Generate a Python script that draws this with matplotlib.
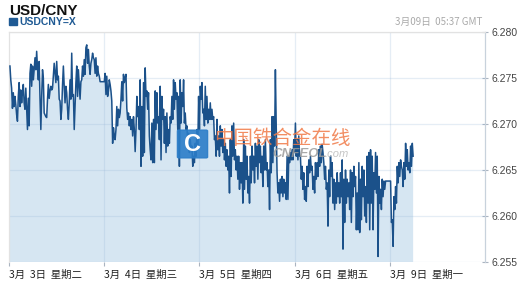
import matplotlib.pyplot as plt
import numpy as np
from matplotlib.patches import FancyBboxPatch, Rectangle

TITLE = 'USD/CNY'
SYMBOL = 'USDCNY=X'
STAMP = '3月09日  05:37 GMT'
DAY_TICKS = [0, 1, 2, 3, 4]
DAY_LABELS = ['3月  3日  星期二', '3月  4日  星期三', '3月  5日  星期四',
              '3月  6日  星期五', '3月  9日  星期一']
Y_TICKS = [6.255, 6.260, 6.265, 6.270, 6.275, 6.280]

# quotes, in time order (Mar 3 .. Mar 9)
seg1 = [6.2763, 6.2748, 6.2739, 6.2717, 6.2734, 6.2719, 6.2730, 6.2721, 6.2710, 6.2703,
        6.2730, 6.2745, 6.2719, 6.2737, 6.2723, 6.2734, 6.2743, 6.2723, 6.2716, 6.2739,
        6.2716, 6.2694, 6.2728, 6.2698, 6.2755, 6.2765, 6.2741, 6.2763, 6.2748, 6.2759,
        6.2772, 6.2759, 6.2779, 6.2761, 6.2748, 6.2768, 6.2728, 6.2694, 6.2730, 6.2759,
        6.2750, 6.2712, 6.2710, 6.2708, 6.2707, 6.2727, 6.2743, 6.2728, 6.2736, 6.2741,
        6.2737, 6.2739, 6.2752, 6.2766, 6.2755, 6.2745, 6.2768, 6.2748, 6.2752, 6.2727,
        6.2725, 6.2705, 6.2716, 6.2743, 6.2763, 6.2741, 6.2723, 6.2741, 6.2734, 6.2716,
        6.2705, 6.2723, 6.2748, 6.2727, 6.2777, 6.2730, 6.2732, 6.2694, 6.2719, 6.2745,
        6.2763, 6.2730, 6.2759, 6.2743, 6.2727, 6.2746, 6.2748, 6.2763, 6.2752, 6.2770,
        6.2754, 6.2783, 6.2786, 6.2766, 6.2781, 6.2763, 6.2754, 6.2766, 6.2770, 6.2777,
        6.2772, 6.2770, 6.2755, 6.2772, 6.2752, 6.2763, 6.2755, 6.2752, 6.2746, 6.2746,
        6.2746, 6.2746, 6.2746, 6.2746]
seg2 = [6.2755, 6.2732, 6.2752, 6.2730, 6.2736, 6.2748, 6.2743, 6.2736, 6.2725, 6.2679,
        6.2696, 6.2687, 6.2683, 6.2694, 6.2719, 6.2698, 6.2716, 6.2707, 6.2712, 6.2727,
        6.2746, 6.2725, 6.2754, 6.2745, 6.2750, 6.2754, 6.2717, 6.2705, 6.2712, 6.2698,
        6.2708, 6.2694, 6.2705, 6.2687, 6.2708, 6.2694, 6.2670, 6.2694, 6.2730, 6.2708,
        6.2719, 6.2694, 6.2748, 6.2654, 6.2719, 6.2665, 6.2745, 6.2669, 6.2761, 6.2730,
        6.2736, 6.2716, 6.2734, 6.2687, 6.2672, 6.2661, 6.2701, 6.2658, 6.2705, 6.2658,
        6.2736, 6.2694, 6.2734, 6.2701, 6.2708, 6.2683, 6.2741, 6.2661, 6.2730, 6.2705,
        6.2716, 6.2679, 6.2708, 6.2669, 6.2712, 6.2676, 6.2694, 6.2679, 6.2708, 6.2701,
        6.2730, 6.2705, 6.2748, 6.2716, 6.2745, 6.2727, 6.2734, 6.2694, 6.2730, 6.2654,
        6.2748, 6.2701, 6.2734, 6.2719, 6.2748, 6.2701, 6.2712, 6.2694, 6.2698, 6.2679,
        6.2690, 6.2669, 6.2683, 6.2672, 6.2676, 6.2654, 6.2665, 6.2658, 6.2679, 6.2665,
        6.2694, 6.2672, 6.2730, 6.2694]
seg3 = [6.2741, 6.2727, 6.2745, 6.2712, 6.2716, 6.2698, 6.2741, 6.2705, 6.2730, 6.2701,
        6.2716, 6.2705, 6.2723, 6.2705, 6.2716, 6.2705, 6.2708, 6.2683, 6.2687, 6.2665,
        6.2705, 6.2672, 6.2687, 6.2665, 6.2698, 6.2676, 6.2694, 6.2669, 6.2683, 6.2661,
        6.2679, 6.2654, 6.2672, 6.2650, 6.2665, 6.2625, 6.2683, 6.2643, 6.2698, 6.2665,
        6.2701, 6.2661, 6.2672, 6.2650, 6.2665, 6.2640, 6.2665, 6.2629, 6.2658, 6.2636,
        6.2658, 6.2614, 6.2683, 6.2629, 6.2676, 6.2640, 6.2665, 6.2625, 6.2643, 6.2614,
        6.2665, 6.2636, 6.2676, 6.2650, 6.2665, 6.2636, 6.2679, 6.2654, 6.2676, 6.2640,
        6.2683, 6.2658, 6.2676, 6.2647, 6.2665, 6.2632, 6.2676, 6.2650, 6.2683, 6.2650,
        6.2658, 6.2632, 6.2650, 6.2607, 6.2683, 6.2647, 6.2708, 6.2658, 6.2708, 6.2676,
        6.2759, 6.2698, 6.2647, 6.2625, 6.2636, 6.2616, 6.2640, 6.2625, 6.2643, 6.2621,
        6.2640, 6.2625, 6.2636, 6.2618, 6.2665, 6.2618, 6.2665, 6.2658, 6.2669, 6.2661,
        6.2672, 6.2661, 6.2683, 6.2669]
seg4 = [6.2701, 6.2665, 6.2683, 6.2661, 6.2687, 6.2665, 6.2665, 6.2640, 6.2654, 6.2629,
        6.2647, 6.2618, 6.2632, 6.2616, 6.2654, 6.2632, 6.2661, 6.2647, 6.2665, 6.2650,
        6.2654, 6.2629, 6.2643, 6.2625, 6.2658, 6.2640, 6.2658, 6.2643, 6.2672, 6.2654,
        6.2676, 6.2658, 6.2678, 6.2669, 6.2658, 6.2640, 6.2654, 6.2629, 6.2636, 6.2589,
        6.2650, 6.2621, 6.2665, 6.2643, 6.2658, 6.2614, 6.2640, 6.2607, 6.2636, 6.2614,
        6.2647, 6.2621, 6.2636, 6.2614, 6.2647, 6.2621, 6.2661, 6.2564, 6.2640, 6.2593,
        6.2650, 6.2614, 6.2640, 6.2621, 6.2636, 6.2607, 6.2650, 6.2593, 6.2647, 6.2621,
        6.2654, 6.2632, 6.2643, 6.2585, 6.2625, 6.2585, 6.2658, 6.2582, 6.2640, 6.2596,
        6.2654, 6.2621, 6.2650, 6.2600, 6.2632, 6.2593, 6.2665, 6.2614, 6.2669, 6.2585,
        6.2672, 6.2614, 6.2665, 6.2585, 6.2647, 6.2629, 6.2669, 6.2625, 6.2665, 6.2556,
        6.2643, 6.2614, 6.2629, 6.2607, 6.2640, 6.2621, 6.2638, 6.2629, 6.2638, 6.2638,
        6.2638, 6.2638, 6.2638, 6.2638, 6.2638, 6.2593, 6.2596, 6.2567, 6.2621, 6.2607,
        6.2632, 6.2614, 6.2654, 6.2636, 6.2658, 6.2643, 6.2661, 6.2654, 6.2650, 6.2632,
        6.2658, 6.2640, 6.2679, 6.2654, 6.2672, 6.2650, 6.2658, 6.2647, 6.2676, 6.2654,
        6.2679, 6.2665]

LINE = '#1b518a'
FILL = '#d6e6f2'
GRID = (0.6, 0.72, 0.85, 0.25)
CJK = ['Noto Sans CJK SC', 'DejaVu Sans']
LAT = ['Liberation Sans', 'DejaVu Sans']

rate = np.array(seg1 + seg2 + seg3 + seg4)
t = np.linspace(0.01, 4.245, len(rate))  # trading days since Mar 3

fig = plt.figure(figsize=(5.28, 2.88), dpi=100)
ax = fig.add_axes([9 / 528, 26 / 288, 476 / 528, 230 / 288])

ax.fill_between(t, rate, 6.2, color=FILL, lw=0, zorder=1)
ax.plot(t, rate, color=LINE, lw=1.1, zorder=3)

for y in Y_TICKS:
    ax.axhline(y, color=GRID, lw=0.9, zorder=2)
for d in DAY_TICKS[1:]:
    ax.axvline(d, color=GRID, lw=0.9, zorder=2)

ax.set_xlim(0, 5)
ax.set_ylim(6.255, 6.280)

ax.set_xticks(DAY_TICKS)
ax.set_xticklabels(DAY_LABELS, family=CJK, fontsize=7.5, color='#222222', ha='left')
ax.tick_params(axis='x', direction='out', length=3, width=0.8, color='#aab4c0', pad=3)

ax.yaxis.tick_right()
ax.set_yticks(Y_TICKS)
ax.set_yticklabels(['%.3f' % v for v in Y_TICKS], family=LAT, fontsize=7.5, color='#444444')
ax.tick_params(axis='y', direction='inout', length=5, width=0.8, color='#aab4c0', pad=2)

for side in ['top', 'left']:
    ax.spines[side].set_color('#e2e2e2')
    ax.spines[side].set_linewidth(0.9)
ax.spines['bottom'].set_visible(False)
ax.spines['right'].set_color('#c8d2dc')
ax.spines['right'].set_linewidth(0.9)

# header
fig.text(9 / 528, 0.962, TITLE, family=LAT, fontsize=11, fontweight='bold',
         color='#111111', va='center', ha='left')
fig.patches.append(Rectangle((9 / 528, 263 / 288), 7.5 / 528, 7.5 / 288,
                             transform=fig.transFigure, color='#1f5a94'))
fig.text(19 / 528, 0.925, SYMBOL, family=LAT, fontsize=7.5, fontweight='bold',
         color='#1f5a94', va='center', ha='left')
fig.text(482 / 528, 0.925, STAMP, family=CJK, fontsize=7, color='#aaaaaa',
         va='center', ha='right')

# watermark
fig.patches.append(FancyBboxPatch((179 / 528, 131 / 288), 27 / 528, 26 / 288,
                                  boxstyle='round,pad=0.003', transform=fig.transFigure,
                                  color='#2b7dc8', alpha=0.9, zorder=5))
fig.text(192.5 / 528, 143.5 / 288, 'C', family=LAT, fontsize=17, fontweight='bold',
         color='white', va='center', ha='center', zorder=6)
fig.text(214 / 528, 149 / 288, '中国铁合金在线', family=CJK, fontsize=14,
         color='#f07a48', alpha=0.85, va='center', ha='left', zorder=6)
fig.text(272 / 528, 134 / 288, 'CNFEOL', family=LAT, fontsize=9.5, fontweight='bold',
         style='italic', color='#9a9a9a', alpha=0.85, va='center', ha='left', zorder=6)
fig.text(325 / 528, 134 / 288, '.com', family=LAT, fontsize=8,
         style='italic', color='#bbbbbb', alpha=0.85, va='center', ha='left', zorder=6)

fig.savefig('out.png', dpi=100)
